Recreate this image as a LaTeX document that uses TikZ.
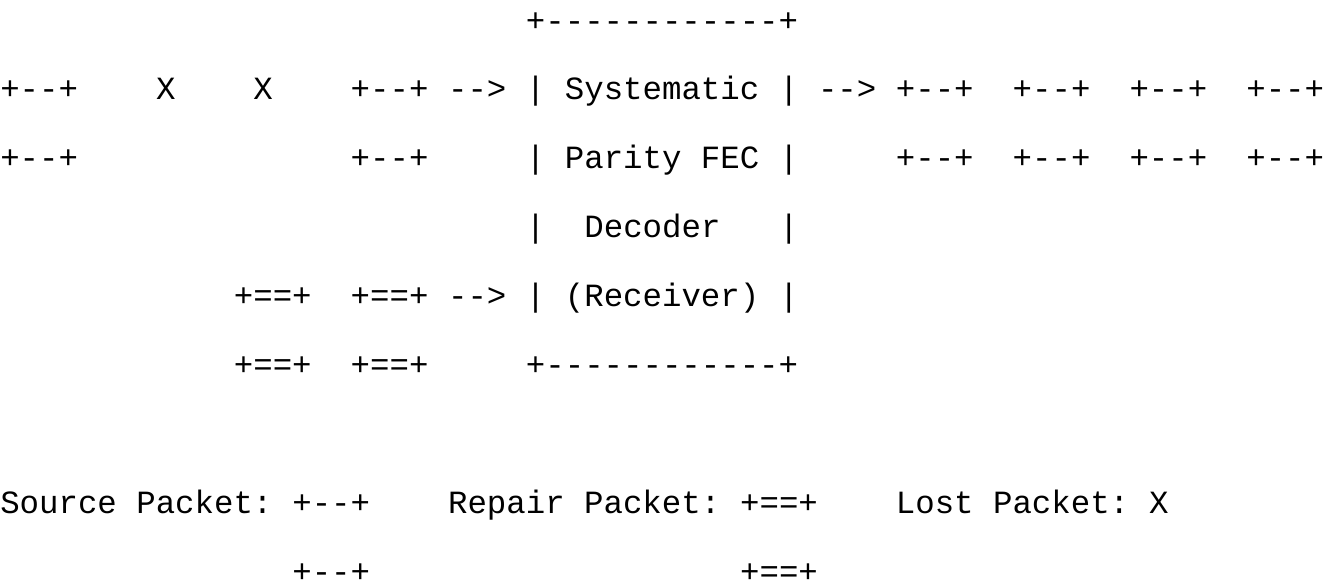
\documentclass[tikz,border=0pt]{standalone}
\usepackage{fontspec}
\newfontfamily\asciifont{Liberation Mono}
\def\cw{19.47}
\def\lh{68.9}
\def\bl{31}

\begin{document}
\begin{tikzpicture}[x=0.75pt,y=-0.75pt,
	txt/.style={anchor=base west,inner sep=0pt,font=\asciifont\fontsize{24.3}{29}\selectfont}]
		%%%%% START %%%%%
		\useasboundingbox (0,0) rectangle (1324,587);
		
		% decoder box
		\node[txt] (dectop) at ({27*\cw},{\bl+0*\lh}) {+------------+};
		\node[txt] (decbot) at ({27*\cw},{\bl+5*\lh}) {+------------+};
		\foreach \r in {1,...,4}{
			\node[txt] (decl\r) at ({27*\cw},{\bl+\r*\lh}) {|};
			\node[txt] (decr\r) at ({40*\cw},{\bl+\r*\lh}) {|};
		}
		\node[txt] (dectxt1) at ({29*\cw},{\bl+1*\lh}) {Systematic};
		\node[txt] (dectxt2) at ({29*\cw},{\bl+2*\lh}) {Parity FEC};
		\node[txt] (dectxt3) at ({30*\cw},{\bl+3*\lh}) {Decoder};
		\node[txt] (dectxt4) at ({29*\cw},{\bl+4*\lh}) {(Receiver)};
		
		% incoming source packets
		\node[txt] (srcin1a) at ({0*\cw},{\bl+1*\lh}) {+--+};
		\node[txt] (srcin1b) at ({0*\cw},{\bl+2*\lh}) {+--+};
		\node[txt] (lost1) at ({8*\cw},{\bl+1*\lh}) {X};
		\node[txt] (lost2) at ({13*\cw},{\bl+1*\lh}) {X};
		\node[txt] (srcin4a) at ({18*\cw},{\bl+1*\lh}) {+--+};
		\node[txt] (srcin4b) at ({18*\cw},{\bl+2*\lh}) {+--+};
		\node[txt] (arrsrc) at ({23*\cw},{\bl+1*\lh}) {-->};
		
		% incoming repair packets
		\foreach \c/\n in {12/1,18/2}{
			\node[txt] (rep\n a) at ({\c*\cw},{\bl+4*\lh}) {+==+};
			\node[txt] (rep\n b) at ({\c*\cw},{\bl+5*\lh}) {+==+};
		}
		\node[txt] (arrrep) at ({23*\cw},{\bl+4*\lh}) {-->};
		
		% recovered source packets
		\node[txt] (arrout) at ({42*\cw},{\bl+1*\lh}) {-->};
		\foreach \c/\n in {46/1,52/2,58/3,64/4}{
			\node[txt] (out\n a) at ({\c*\cw},{\bl+1*\lh}) {+--+};
			\node[txt] (out\n b) at ({\c*\cw},{\bl+2*\lh}) {+--+};
		}
		
		% legend
		\node[txt] (legsrc) at ({0*\cw},{\bl+7*\lh}) {Source Packet:};
		\node[txt] (legsrca) at ({15*\cw},{\bl+7*\lh}) {+--+};
		\node[txt] (legsrcb) at ({15*\cw},{\bl+8*\lh}) {+--+};
		\node[txt] (legrep) at ({23*\cw},{\bl+7*\lh}) {Repair Packet:};
		\node[txt] (legrepa) at ({38*\cw},{\bl+7*\lh}) {+==+};
		\node[txt] (legrepb) at ({38*\cw},{\bl+8*\lh}) {+==+};
		\node[txt] (leglost) at ({46*\cw},{\bl+7*\lh}) {Lost Packet:};
		\node[txt] (leglostx) at ({59*\cw},{\bl+7*\lh}) {X};
		
		%%%%% END %%%%%
	\end{tikzpicture}
\end{document}
